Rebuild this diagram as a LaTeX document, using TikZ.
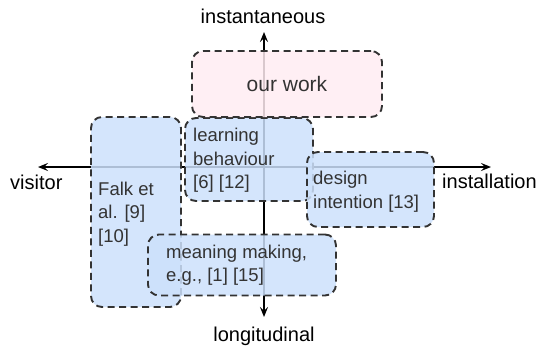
\documentclass[tikz,border=0pt]{standalone}
\usepackage{fontspec}
\setmainfont{Liberation Sans}
\usetikzlibrary{arrows.meta}
\definecolor{boxblue}{HTML}{CCE0FB}
\definecolor{boxpink}{HTML}{FFECF2}
\definecolor{boxline}{HTML}{333333}
\tikzset{
  axis/.style={line width=1.4pt, black, {Stealth[length=10pt,width=8pt,inset=4pt]}-{Stealth[length=10pt,width=8pt,inset=4pt]}},
  area/.style={draw=boxline, line width=1.9pt, dash pattern=on 7pt off 4.5pt, rounded corners=11pt, inner sep=0pt, fill opacity=0.85},
  bluearea/.style={area, fill=boxblue},
  pinkarea/.style={area, fill=boxpink},
  axislabel/.style={font=\fontsize{20}{24}\selectfont, text=black, inner sep=0pt},
  areatext/.style={font=\fontsize{18.5}{23.5}\selectfont, text=boxline, inner sep=0pt, align=left, anchor=north west},
}
\begin{document}
\begin{tikzpicture}[x=1pt,y=-1pt]
\useasboundingbox (0,0) rectangle (541,351);
% axes
\coordinate (W) at (38,167);
\coordinate (E) at (491,167);
\coordinate (N) at (264,32);
\coordinate (S) at (264,317);
\draw[axis] (W) -- (E);
\draw[axis] (N) -- (S);
% areas
\node[bluearea, minimum width=90pt, minimum height=190pt] (falk) at (136,212) {};
\node[bluearea, minimum width=128pt, minimum height=83pt] (learn) at (249,159.5) {};
\node[bluearea, minimum width=127pt, minimum height=75pt] (design) at (370.5,189.5) {};
\node[bluearea, minimum width=188pt, minimum height=61pt] (meaning) at (242,265) {};
\node[pinkarea, minimum width=190pt, minimum height=66pt] (ours) at (287,84) {};
% area texts
\node[areatext] (falkt) at (98,181.5) {Falk et\\al. [9]\\{[10]}};
\node[areatext] (learnt) at (193,128.3) {learning\\behaviour\\{[6] [12]}};
\node[areatext] (designt) at (313,171.3) {design\\intention [13]};
\node[areatext] (meaningt) at (166,244.8) {meaning making,\\e.g., [1] [15]};
\node[font=\fontsize{21}{24}\selectfont, text=boxline, inner sep=0pt, anchor=base] (ourst) at (287,91.7) {our work};
% axis labels
\node[axislabel, anchor=base] (inst) at (263,23) {instantaneous};
\node[axislabel, anchor=base] (longi) at (264,341) {longitudinal};
\node[axislabel, anchor=base west] (visit) at (10,189) {visitor};
\node[axislabel, anchor=base west] (install) at (442,188) {installation};
\end{tikzpicture}
\end{document}
